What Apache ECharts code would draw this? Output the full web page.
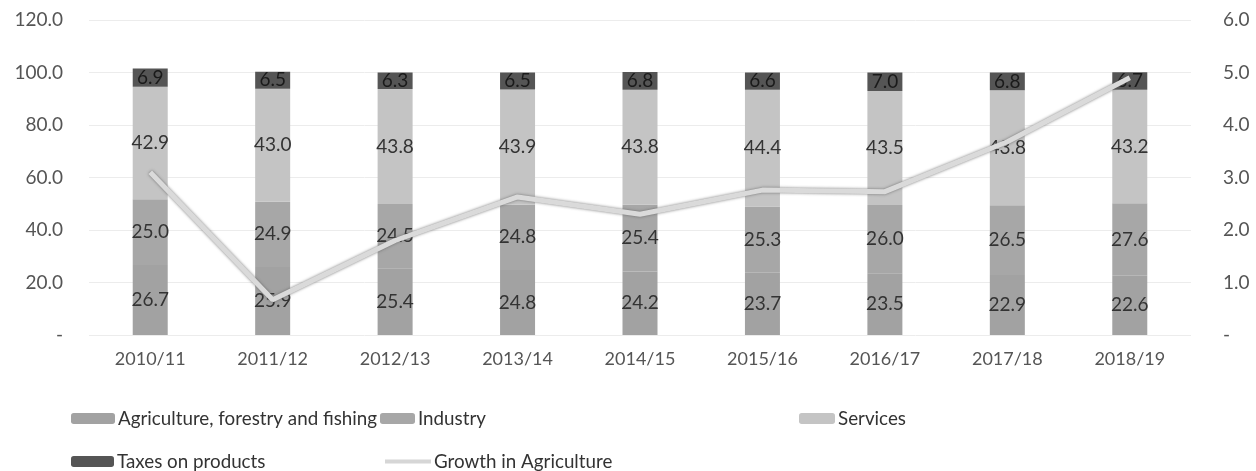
<!DOCTYPE html>
<html><head><meta charset="utf-8">
<script src="https://cdn.jsdelivr.net/npm/echarts@6/dist/echarts.min.js"></script>
<style>html,body{margin:0;padding:0;background:#fff}#c{width:1256px;height:471px}</style>
</head><body><div id="c"></div>
<script>
const categories = ['2010/11','2011/12','2012/13','2013/14','2014/15','2015/16','2016/17','2017/18','2018/19'];
const agriculture = [26.7,25.9,25.4,24.8,24.2,23.7,23.5,22.9,22.6];
const industry = [25.0,24.9,24.5,24.8,25.4,25.3,26.0,26.5,27.6];
const services = [42.9,43.0,43.8,43.9,43.8,44.4,43.5,43.8,43.2];
const taxes = [6.9,6.5,6.3,6.5,6.8,6.6,7.0,6.8,6.7];
const growth = [3.1,0.67,1.8,2.63,2.3,2.76,2.73,3.68,4.9];
const leftTicks = [0,20,40,60,80,100,120];
const rightTicks = [0,1,2,3,4,5,6];

const FONT = 'Lato';
const fmt = v => v === 0 ? '-' : v.toFixed(1);
const lbl = (color) => ({show:true, position:'inside', formatter: p => p.value.toFixed(1), color: color, fontFamily: FONT, fontSize: 19});
const chart = echarts.init(document.getElementById('c'), null, {renderer:'canvas'});
const legendBase = {itemHeight:11, itemGap:4, textStyle:{fontFamily:FONT, fontSize:18.8, color:'#333', padding:[0,0,0,-2]}};
const L = (o) => Object.assign({}, legendBase, o);
chart.setOption({
  animation:false,
  textStyle:{fontFamily:FONT},
  grid:{left:89, right:65, top:20, bottom:136},
  legend:[
    L({left:66, top:404, itemWidth:44, data:['Agriculture, forestry and fishing']}),
    L({left:375, top:404, itemWidth:35, data:['Industry']}),
    L({left:794, top:404, itemWidth:36, data:['Services']}),
    L({left:66, top:447, itemWidth:43, data:['Taxes on products']}),
    L({left:380, top:447, itemWidth:46, itemHeight:4, data:[{name:'Growth in Agriculture', icon:'rect'}]})
  ],
  xAxis:{type:'category', data:categories, axisLine:{show:false}, axisTick:{show:false},
    axisLabel:{fontFamily:FONT, fontSize:18, color:'#555', margin:15}},
  yAxis:[
    {type:'value', min:0, max:120, interval:20, axisLine:{show:false}, axisTick:{show:false},
     axisLabel:{formatter:fmt, fontFamily:FONT, fontSize:19, color:'#555', margin:26},
     splitLine:{lineStyle:{color:'#ececec', width:1}}},
    {type:'value', min:0, max:6, interval:1, axisLine:{show:false}, axisTick:{show:false},
     axisLabel:{formatter:fmt, fontFamily:FONT, fontSize:19, color:'#555', margin:32},
     splitLine:{show:false}}
  ],
  series:[
    {name:'Agriculture, forestry and fishing', type:'bar', stack:'s', barWidth:35, data:agriculture,
     itemStyle:{color:'#a2a2a2'}, label:lbl('#333')},
    {name:'Industry', type:'bar', stack:'s', data:industry,
     itemStyle:{color:'#a7a7a7'}, label:lbl('#333')},
    {name:'Services', type:'bar', stack:'s', data:services,
     itemStyle:{color:'#c4c4c4'}, label:lbl('#333')},
    {name:'Taxes on products', type:'bar', stack:'s', data:taxes,
     itemStyle:{color:'#555555'}, label:lbl('#1a1a1a')},
    {name:'Growth in Agriculture', type:'line', yAxisIndex:1, data:growth, showSymbol:false, symbol:'none',
     lineStyle:{color:'#dadada', width:5, shadowColor:'rgba(90,90,90,0.8)', shadowBlur:3}, itemStyle:{color:'#d6d6d6'}, z:5}
  ]
});
</script></body></html>
